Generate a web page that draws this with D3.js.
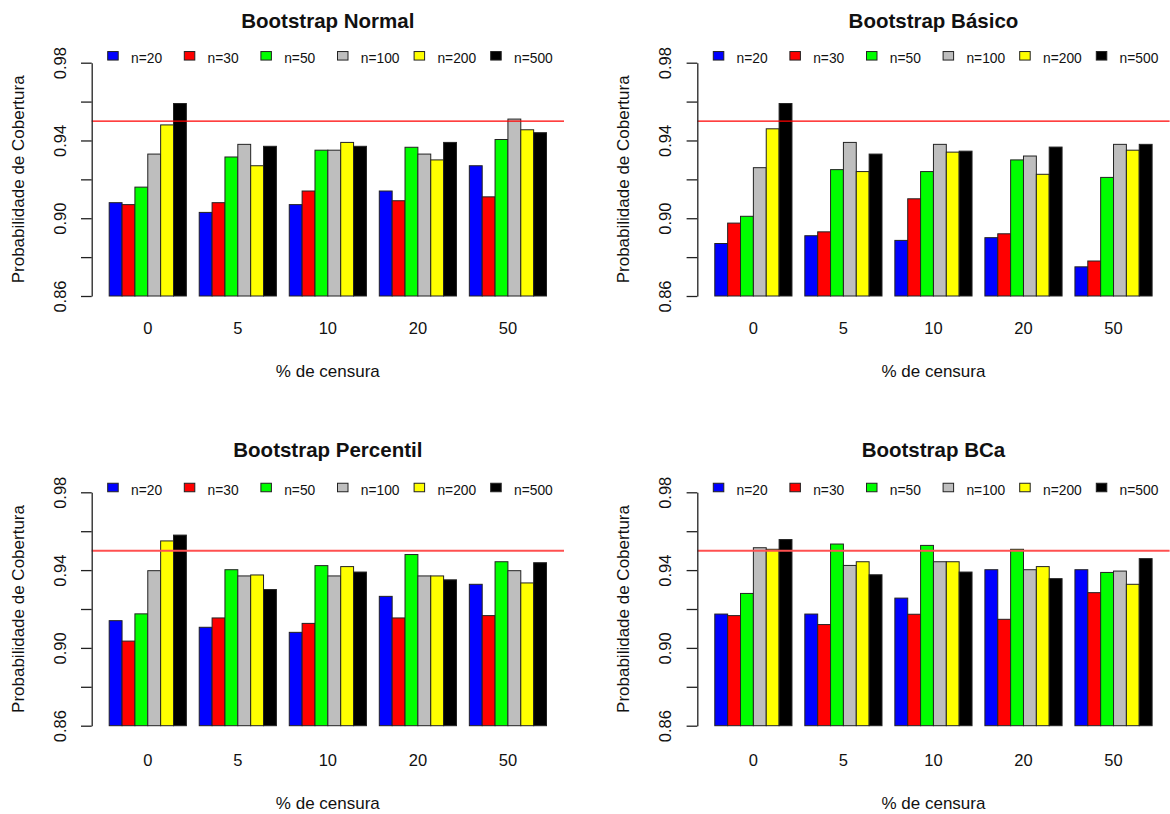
<!doctype html>
<html lang="pt">
  <head>
    <meta charset="utf-8">
    <title>Probabilidade de cobertura - intervalos bootstrap</title>
    <style>
      * {
        box-sizing: border-box;
      }

      body {
        margin: 0;
        background: #fff;
      }

      svg text {
        font-family: "Liberation Sans", Arial, sans-serif;
        fill: #111;
      }
    </style>
  </head>
  <body>
    <svg id="chart" width="1170" height="814"></svg>

    <script src="https://cdn.jsdelivr.net/npm/d3@7"></script>
    <script>
      // data
      const categories = ['0', '5', '10', '20', '50']
      const series = ['n=20', 'n=30', 'n=50', 'n=100', 'n=200', 'n=500']
      const colors = ['#0000ff', '#ff0000', '#00ff00', '#bebebe', '#ffff00', '#000000']
      const yTicks = [0.86, 0.88, 0.90, 0.92, 0.94, 0.96, 0.98]
      const yLabels = [0.86, 0.90, 0.94, 0.98]
      const reference = 0.95
      const titles = ['Bootstrap Normal', 'Bootstrap Básico', 'Bootstrap Percentil', 'Bootstrap BCa']
      const xTitle = '% de censura'
      const yTitle = 'Probabilidade de Cobertura'

      // one row per % de censura, one value per n
      const normal = [
        [0.908, 0.907, 0.916, 0.933, 0.948, 0.959],
        [0.903, 0.908, 0.9315, 0.938, 0.927, 0.937],
        [0.907, 0.914, 0.935, 0.935, 0.939, 0.937],
        [0.914, 0.909, 0.9365, 0.933, 0.930, 0.939],
        [0.927, 0.911, 0.9405, 0.951, 0.9455, 0.944]
      ]
      const basico = [
        [0.887, 0.8975, 0.901, 0.926, 0.946, 0.959],
        [0.891, 0.893, 0.925, 0.939, 0.924, 0.933],
        [0.8886, 0.910, 0.924, 0.938, 0.934, 0.9345],
        [0.890, 0.892, 0.930, 0.932, 0.9226, 0.9366],
        [0.875, 0.878, 0.921, 0.938, 0.935, 0.938]
      ]
      const percentil = [
        [0.914, 0.9035, 0.9175, 0.9397, 0.955, 0.958],
        [0.9106, 0.9154, 0.9402, 0.937, 0.9375, 0.930],
        [0.908, 0.9126, 0.9423, 0.937, 0.9418, 0.939],
        [0.9265, 0.9154, 0.948, 0.937, 0.937, 0.935],
        [0.9327, 0.9166, 0.9443, 0.9397, 0.9334, 0.9438]
      ]
      const bca = [
        [0.9174, 0.9166, 0.928, 0.9515, 0.9507, 0.9557],
        [0.9174, 0.912, 0.9534, 0.9424, 0.9443, 0.9376],
        [0.9256, 0.9173, 0.9527, 0.9443, 0.9443, 0.939],
        [0.9402, 0.9147, 0.9507, 0.9402, 0.9418, 0.9356],
        [0.9402, 0.9284, 0.9388, 0.9395, 0.9327, 0.9459]
      ]
      const panelValues = [normal, basico, percentil, bca]

      // where each plot region sits on the page
      const layout = [
        { left: 91.7, right: 564, top: 62.7, bottom: 296, legendY: 55.8, tickY: 328, xTitleY: 370.7, line: 'red', lineWidth: 1.3 },
        { left: 697.3, right: 1169.6, top: 62.7, bottom: 296, legendY: 55.8, tickY: 328, xTitleY: 370.7, line: 'red', lineWidth: 1.3 },
        { left: 91.7, right: 564, top: 492.3, bottom: 725.7, legendY: 487.5, tickY: 760, xTitleY: 803.3, line: '#ff5050', lineWidth: 2 },
        { left: 697.3, right: 1169.6, top: 492.3, bottom: 725.7, legendY: 487.5, tickY: 760, xTitleY: 803.3, line: '#ff5050', lineWidth: 2 }
      ]

      const svg = d3.select('#chart')
      svg.append('rect')
        .attr('width', 1170)
        .attr('height', 814)
        .attr('fill', '#fff')

      function drawPanel(p, title, values) {
        const x0 = d3.scaleBand()
          .domain(categories)
          .range([p.left, p.right])
          .paddingInner(1 / 7)
          .paddingOuter(1.36 / 7)
        const x1 = d3.scaleBand()
          .domain(series)
          .range([0, x0.bandwidth()])
        const y = d3.scaleLinear()
          .domain([0.86, 0.98])
          .range([p.bottom, p.top])

        const g = svg.append('g')

        const groups = g.selectAll('g.grp')
          .data(categories)
          .join('g')
            .attr('class', 'grp')
            .attr('transform', c => `translate(${x0(c)}, 0)`)

        groups.selectAll('rect')
          .data((c, i) => values[i].map((v, j) => ({ s: series[j], v: v, color: colors[j] })))
          .join('rect')
            .attr('x', d => x1(d.s))
            .attr('width', x1.bandwidth())
            .attr('y', d => y(d.v))
            .attr('height', d => y(0.86) - y(d.v))
            .attr('fill', d => d.color)
            .attr('stroke', '#222')
            .attr('stroke-width', 1)

        // reference line at 0.95
        g.append('line')
          .attr('x1', p.left)
          .attr('x2', p.right)
          .attr('y1', y(reference))
          .attr('y2', y(reference))
          .attr('stroke', p.line)
          .attr('stroke-width', p.lineWidth)

        // y axis, labels parallel to the axis
        const yAxis = d3.axisLeft(y)
          .tickValues(yTicks)
          .tickSize(10.7)
          .tickSizeOuter(0)
          .tickFormat(d => yLabels.includes(d) ? d3.format('.2f')(d) : '')

        const ya = g.append('g')
          .attr('transform', `translate(${p.left}, 0)`)
          .call(yAxis)
        ya.selectAll('path, line')
          .attr('stroke', '#222')
          .attr('stroke-width', 1.3)
        ya.selectAll('text')
          .attr('x', 0)
          .attr('y', -31.7)
          .attr('dy', '0.35em')
          .attr('transform', 'rotate(-90)')
          .attr('text-anchor', 'middle')
          .style('font-size', '16.5px')
          .style('fill', '#111')

        // x axis: names only
        const xAxis = d3.axisBottom(x0).tickSize(0)
        const xa = g.append('g')
          .attr('transform', `translate(0, ${p.bottom})`)
          .call(xAxis)
        xa.select('.domain').remove()
        xa.selectAll('text')
          .attr('y', p.tickY - p.bottom)
          .attr('dy', '0.35em')
          .style('font-size', '16.5px')
          .style('fill', '#111')

        const cx = (p.left + p.right) / 2

        g.append('text')
          .attr('x', cx)
          .attr('y', p.top - 42)
          .attr('dy', '0.35em')
          .attr('text-anchor', 'middle')
          .style('font-size', '20.5px')
          .style('font-weight', 'bold')
          .text(title)

        g.append('text')
          .attr('x', cx)
          .attr('y', p.xTitleY)
          .attr('dy', '0.35em')
          .attr('text-anchor', 'middle')
          .style('font-size', '17px')
          .text(xTitle)

        g.append('text')
          .attr('transform', `translate(${p.left - 74}, ${(p.top + p.bottom) / 2}) rotate(-90)`)
          .attr('dy', '0.35em')
          .attr('text-anchor', 'middle')
          .style('font-size', '17px')
          .text(yTitle)

        // legend across the top
        const items = g.selectAll('g.leg')
          .data(series)
          .join('g')
            .attr('class', 'leg')
            .attr('transform', (d, i) => `translate(${p.left + 16 + i * 76.6}, ${p.legendY})`)
        items.append('rect')
          .attr('x', 0)
          .attr('y', -4.25)
          .attr('width', 10.5)
          .attr('height', 8.5)
          .attr('fill', (d, i) => colors[i])
          .attr('stroke', '#222')
          .attr('stroke-width', 1)
        items.append('text')
          .attr('x', 23.3)
          .attr('y', 2.5)
          .attr('dy', '0.35em')
          .style('font-size', '13.8px')
          .text(d => d)
      }

      layout.forEach((p, i) => drawPanel(p, titles[i], panelValues[i]))
    </script>
  </body>
</html>
